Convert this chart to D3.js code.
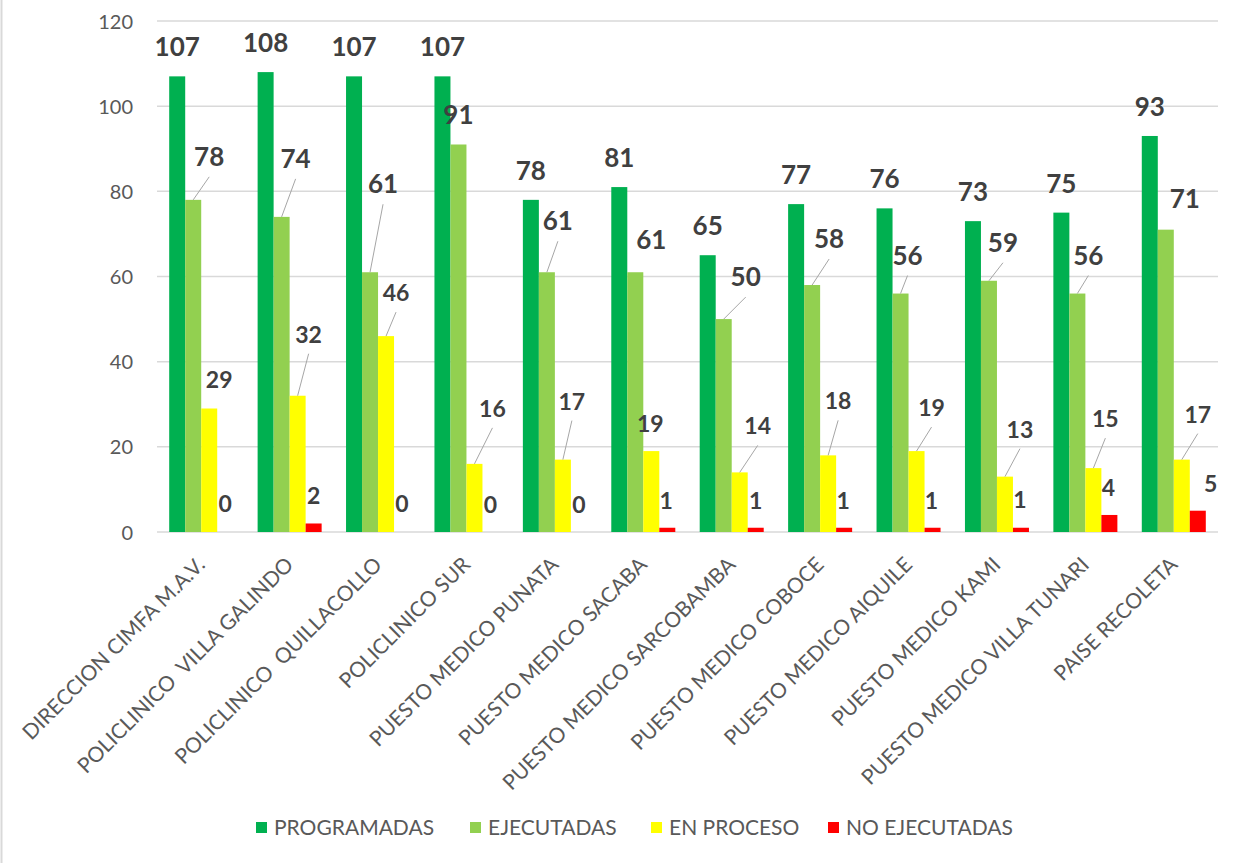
<!DOCTYPE html>
<html>
<head>
<meta charset="utf-8">
<script src="https://cdn.jsdelivr.net/npm/d3@7/dist/d3.min.js"></script>
<style>
  html, body { margin: 0; padding: 0; background: #ffffff; }
  svg { display: block; font-family: Lato, "Open Sans", sans-serif; }
  text { white-space: pre; }
</style>
</head>
<body>
<svg id="chart" width="1243" height="863"></svg>
<script>
// ---------- DATA ----------
const categories = [
  "DIRECCION CIMFA M.A.V.",
  "POLICLINICO  VILLA GALINDO",
  "POLICLINICO  QUILLACOLLO",
  "POLICLINICO SUR",
  "PUESTO MEDICO PUNATA",
  "PUESTO MEDICO SACABA",
  "PUESTO MEDICO SARCOBAMBA",
  "PUESTO MEDICO COBOCE",
  "PUESTO MEDICO AIQUILE",
  "PUESTO MEDICO KAMI",
  "PUESTO MEDICO VILLA TUNARI",
  "PAISE RECOLETA"
];
const seriesNames = ["PROGRAMADAS", "EJECUTADAS", "EN PROCESO", "NO EJECUTADAS"];
const programadas  = [107, 108, 107, 107, 78, 81, 65, 77, 76, 73, 75, 93];
const ejecutadas   = [78, 74, 61, 91, 61, 61, 50, 58, 56, 59, 56, 71];
const enProceso    = [29, 32, 46, 16, 17, 19, 14, 18, 19, 13, 15, 17];
const noEjecutadas = [0, 2, 0, 0, 0, 1, 1, 1, 1, 1, 4, 5];
const yTicks = [0, 20, 40, 60, 80, 100, 120];

// ---------- STYLE / LAYOUT ----------
const seriesColors = ["#00b050", "#92d050", "#ffff00", "#ff0000"];
const labelFontSizes = [26, 26, 23, 23];
// label placement offsets (px) relative to bar top centre, as in the original
const labelDx = [
  [0,0,0,0,0,0,0,0,0,0,0,0],
  [16,14,13,0,11,16,22,17,7,14,11,19],
  [10,11,10,18,9,-1,18,10,15,15,12,16],
  [0,0,0,0,0,-1,0,-1,-1,-1,-1,13]
];
const labelDy = [
  [-20,-20,-20,-20,-20,-20,-20,-20,-20,-20,-20,-20],
  [-34,-49,-79,-20,-42,-23,-33,-37,-29,-29,-29,-22],
  [-21,-53,-35,-47,-50,-19,-38,-46,-35,-39,-41,-37],
  [-20,-19,-20,-19,-19,-19,-19,-19,-19,-20,-19,-19]
];
const leader = [
  [0,0,0,0,0,0,0,0,0,0,0,0],
  [1,1,1,0,1,0,1,1,1,1,1,0],
  [0,1,1,1,1,0,1,1,1,1,1,1],
  [0,0,0,0,0,0,0,0,0,0,0,0]
];

const seriesValues = [programadas, ejecutadas, enProceso, noEjecutadas];

const plot = { left: 157, right: 1218, top: 21, bottom: 532 };
const svg = d3.select("#chart");

// chart border line on the left
svg.append("line")
  .attr("x1", 1.5).attr("x2", 1.5).attr("y1", 0).attr("y2", 863)
  .attr("stroke", "#d9d9d9").attr("stroke-width", 2);

const x = d3.scaleBand().domain(categories)
  .range([plot.left, plot.right]).paddingInner(0.276).paddingOuter(0.138);
const xs = d3.scaleBand().domain(seriesNames).range([0, x.bandwidth()]);
const y = d3.scaleLinear().domain([0, 120]).range([plot.bottom, plot.top]);

// gridlines
svg.append("g").selectAll("line").data(yTicks).join("line")
  .attr("x1", plot.left).attr("x2", plot.right)
  .attr("y1", d => y(d)).attr("y2", d => y(d))
  .attr("stroke", "#d9d9d9").attr("stroke-width", 1.5);

// y axis labels
const yAxis = d3.axisLeft(y).tickValues(yTicks).tickSize(0).tickPadding(0);
const yG = svg.append("g").attr("transform", `translate(${plot.left - 24},0)`).call(yAxis);
yG.select(".domain").remove();
yG.selectAll("text")
  .attr("font-family", "Lato, sans-serif")
  .attr("font-size", 20).attr("fill", "#595959").attr("dy", "0.35em");

// bars
const flat = [];
seriesNames.forEach((s, j) => {
  categories.forEach((c, i) => {
    flat.push({ s, j, c, i, v: seriesValues[j][i] });
  });
});

svg.append("g").selectAll("rect").data(flat).join("rect")
  .attr("x", d => x(d.c) + xs(d.s))
  .attr("y", d => y(d.v))
  .attr("width", xs.bandwidth())
  .attr("height", d => y(0) - y(d.v))
  .attr("fill", d => seriesColors[d.j]);

// leader lines
svg.append("g").selectAll("line").data(flat.filter(d => leader[d.j][d.i])).join("line")
  .attr("x1", d => x(d.c) + xs(d.s) + xs.bandwidth() / 2)
  .attr("y1", d => y(d.v))
  .attr("x2", d => x(d.c) + xs(d.s) + xs.bandwidth() / 2 + labelDx[d.j][d.i])
  .attr("y2", d => y(d.v) + labelDy[d.j][d.i] + 11)
  .attr("stroke", "#a6a6a6").attr("stroke-width", 1);

// data labels
svg.append("g").selectAll("text").data(flat).join("text")
  .attr("x", d => x(d.c) + xs(d.s) + xs.bandwidth() / 2 + labelDx[d.j][d.i])
  .attr("y", d => y(d.v) + labelDy[d.j][d.i])
  .attr("text-anchor", "middle")
  .attr("font-family", "Lato, sans-serif")
  .attr("font-weight", "bold")
  .attr("font-size", d => labelFontSizes[d.j])
  .attr("fill", "#404040")
  .text(d => d.v);

// x axis category labels
svg.append("g").selectAll("text").data(categories).join("text")
  .attr("transform", c => `translate(${x(c) + x.bandwidth() / 2 + 5},566) rotate(-45)`)
  .attr("text-anchor", "end")
  .attr("font-family", "Lato, sans-serif")
  .attr("font-size", 21)
  .attr("fill", "#595959")
  .text(c => c);

// legend
const legendX = [256, 470, 651, 828];
const lg = svg.append("g").selectAll("g").data(seriesNames).join("g")
  .attr("transform", (d, i) => `translate(${legendX[i]},822)`);
lg.append("rect").attr("width", 11).attr("height", 11)
  .attr("fill", (d, i) => seriesColors[i]);
lg.append("text").attr("x", 18).attr("y", 13)
  .attr("font-family", "Lato, sans-serif")
  .attr("font-size", 21).attr("fill", "#595959")
  .text(d => d);
</script>
</body>
</html>
